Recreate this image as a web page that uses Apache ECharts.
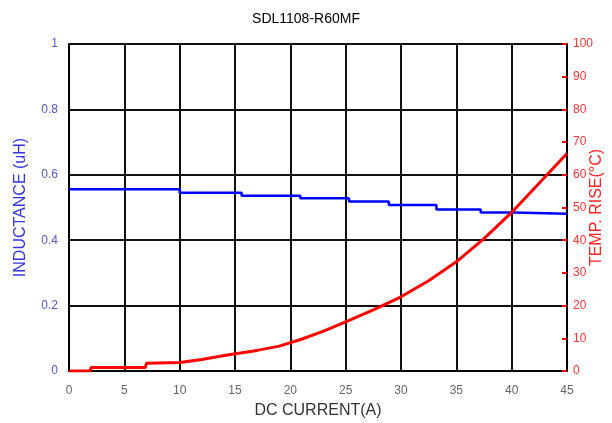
<!DOCTYPE html>
<html>
<head>
<meta charset="utf-8">
<script src="https://cdn.jsdelivr.net/npm/echarts@6/dist/echarts.min.js"></script>
<style>html,body{margin:0;padding:0;background:#fff;}#c{width:612px;height:423px;}</style>
</head>
<body>
<div id="c"></div>
<script>
var titleText = 'SDL1108-R60MF';
var xTicks = [0,5,10,15,20,25,30,35,40,45];
var leftTicks = [0,0.2,0.4,0.6,0.8,1];
var rightTicks = [0,10,20,30,40,50,60,70,80,90,100];
// inductance (uH) vs DC current (A) — step changes
var indCurrent = [0, 10, 15.6, 20.9, 25.3, 28.9, 33.2, 37.2, 40.2, 45];
var indValue   = [0.556, 0.545, 0.536, 0.528, 0.518, 0.508, 0.494, 0.485, 0.481, 0.481];
// temperature rise (°C) vs DC current (A)
var tempCurrent = [0, 1.9, 2.0, 6.9, 7.0, 10, 12, 14.3, 17, 19, 21, 23, 25, 27.5, 30, 32.5, 35, 37.5, 40, 42.5, 45];
var tempValue   = [0, 0, 1.1, 1.1, 2.4, 2.6, 3.5, 4.9, 6.3, 7.6, 9.7, 12.2, 15.0, 18.7, 22.7, 27.6, 33.4, 40.5, 48.5, 57.5, 66.5];

var indData = indCurrent.map(function(x,i){return [x, indValue[i]];});
var tempData = tempCurrent.map(function(x,i){return [x, tempValue[i]];});
var font = 'Liberation Sans, Arial, sans-serif';

var chart = echarts.init(document.getElementById('c'));
chart.setOption({
  animation: false,
  title: {text: titleText, left: 'center', top: 7,
    textStyle: {fontFamily: font, fontSize: 14, fontWeight: 'normal', color: '#000'}},
  grid: {left: 69, right: 45, top: 44, bottom: 52, outerBoundsMode: 'none', containLabel: false},
  xAxis: {
    type: 'value', min: 0, max: 45, interval: 5,
    name: 'DC CURRENT(A)', nameLocation: 'middle', nameGap: 32,
    nameTextStyle: {fontFamily: font, fontSize: 16, color: '#333'},
    axisLine: {lineStyle: {color: '#000', width: 2}},
    axisTick: {show: false},
    axisLabel: {fontFamily: font, fontSize: 12, color: '#666', margin: 14},
    splitLine: {show: true, lineStyle: {color: '#111', width: 2}}
  },
  yAxis: [{
    type: 'value', min: 0, max: 1, interval: 0.2,
    name: 'INDUCTANCE (uH)', nameLocation: 'middle', nameGap: 40,
    nameTextStyle: {fontFamily: font, fontSize: 16, color: '#3333dd'},
    axisLine: {show: true, lineStyle: {color: '#000', width: 2}},
    axisTick: {show: false},
    axisLabel: {fontFamily: font, fontSize: 12, color: '#5555cc', margin: 11,
      formatter: function(v){return String(Math.round(v*10)/10);}},
    splitLine: {show: true, lineStyle: {color: '#111', width: 2}}
  }, {
    type: 'value', min: 0, max: 100, interval: 10, position: 'right',
    name: 'TEMP. RISE(°C)', nameLocation: 'middle', nameGap: 22, nameRotate: 90,
    nameMoveOverlap: false,
    nameTextStyle: {fontFamily: font, fontSize: 16, color: '#ff2222'},
    axisLine: {show: true, lineStyle: {color: '#000', width: 2}},
    axisTick: {show: true, inside: true, length: 5, lineStyle: {color: '#ff0000', width: 2}},
    axisLabel: {fontFamily: font, fontSize: 12, color: '#ff3333', margin: 6},
    splitLine: {show: false}
  }],
  series: [{
    type: 'line', data: indData, yAxisIndex: 0, step: 'end', showSymbol: false,
    lineStyle: {color: '#0000ff', width: 2.5}, z: 3
  }, {
    type: 'line', data: tempData, yAxisIndex: 1, showSymbol: false,
    lineStyle: {color: '#ff0000', width: 3}, z: 4
  }]
});
</script>
</body>
</html>
